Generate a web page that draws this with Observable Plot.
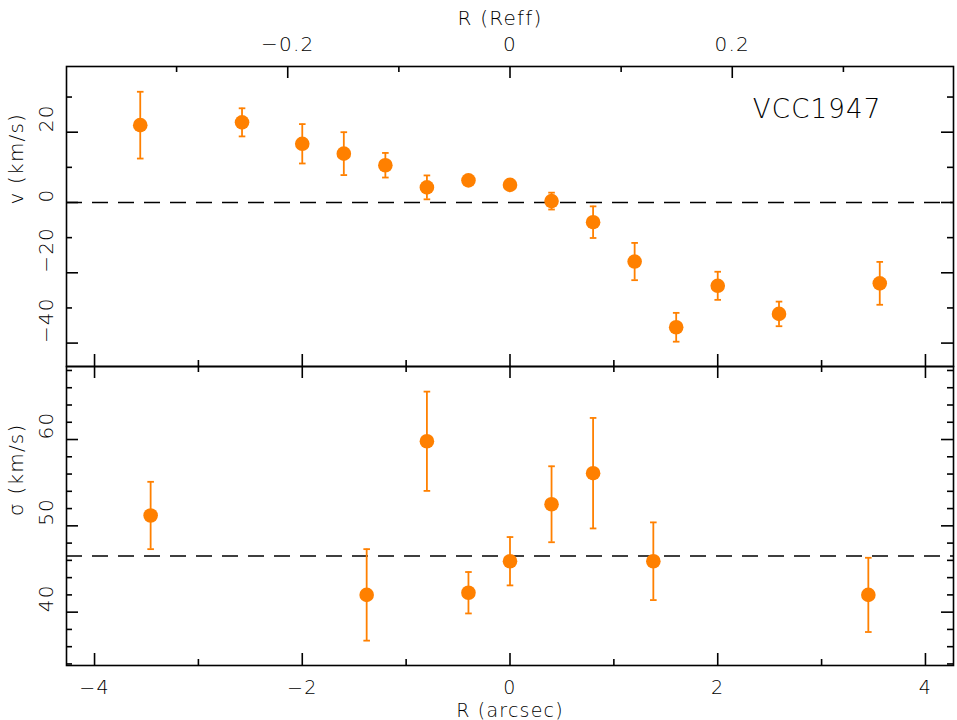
<!DOCTYPE html>
<html><head><meta charset="utf-8">
<script src="https://cdn.jsdelivr.net/npm/d3@7"></script>
<script src="https://cdn.jsdelivr.net/npm/@observablehq/plot@0.6"></script>
<style>
html,body{margin:0;padding:0;background:#fff;}
#chart{position:relative;width:957px;height:720px;overflow:hidden;}
#chart svg{position:absolute;left:0;overflow:visible;}
#chart svg text{letter-spacing:1.2px;font-weight:300;}
</style></head><body><div id="chart"></div>
<script>
// ---- data ----
const galaxy = "VCC1947";
const vR   = [-3.56, -2.58, -2.0, -1.6, -1.2, -0.8, -0.4, 0, 0.4, 0.8, 1.2, 1.6, 2.0, 2.59, 3.56];
const vVal = [22.0, 22.8, 16.7, 13.9, 10.6, 4.3, 6.3, 5.0, 0.4, -5.6, -16.8, -35.5, -23.7, -31.7, -23.0];
const vErr = [9.5, 4.0, 5.6, 6.1, 3.5, 3.4, 1.0, 1.0, 2.4, 4.5, 5.3, 4.1, 4.0, 3.5, 6.1];
const sR   = [-3.46, -1.38, -0.8, -0.4, 0, 0.4, 0.8, 1.38, 3.45];
const sVal = [51.2, 42.0, 59.8, 42.25, 45.9, 52.5, 56.1, 45.9, 42.0];
const sErr = [3.9, 5.3, 5.75, 2.4, 2.8, 4.4, 6.4, 4.5, 4.3];
const vRef = [0];
const sRef = [46.5];
const rMajor = [-4, -2, 0, 2, 4];
const rMinor = [-3, -1, 1, 3];
const reffMajor = [-0.2, 0, 0.2];
const reffMinor = [-0.3, -0.1, 0.1, 0.3];
const reffArcsec = 10.7; // arcsec per Reff
const vMajor = [-40, -20, 0, 20];
const vMinor = [-30, -10, 10, 30];
const sMajor = [40, 50, 60];
const sMinor = [34, 36, 38, 42, 44, 46, 48, 52, 54, 56, 58, 62, 64, 66, 68];
const xDomain = [-4.27, 4.27];
const vDomain = [-46.66, 38.69];
const sDomain = [33.82, 68.46];

// ---- style ----
const orange = "#ff8000";
const FONT = "DejaVu Sans";
const W = 957, ML = 66, MR = 4;
const FW = W - ML - MR;
const SW = 1.6;
const fmt = d => (d < 0 ? "\u2212" + String(Math.abs(d)) : String(d));
const capSymbol = {draw(ctx) { ctx.moveTo(-3.3, 0); ctx.lineTo(3.3, 0); }};

const vData = vR.map((r, i) => ({r, v: vVal[i], lo: vVal[i] - vErr[i], hi: vVal[i] + vErr[i]}));
const sData = sR.map((r, i) => ({r, v: sVal[i], lo: sVal[i] - sErr[i], hi: sVal[i] + sErr[i]}));

function yTicks(major, minor) {
  return [
    Plot.tickY(major, {y: d => d, insetRight: FW - 12, stroke: "black", strokeWidth: SW}),
    Plot.tickY(minor, {y: d => d, insetRight: FW - 6, stroke: "black", strokeWidth: SW}),
    Plot.tickY(major, {y: d => d, insetLeft: FW - 12, stroke: "black", strokeWidth: SW}),
    Plot.tickY(minor, {y: d => d, insetLeft: FW - 6, stroke: "black", strokeWidth: SW}),
    Plot.text(major, {y: d => d, text: fmt, frameAnchor: "left", dx: -20, rotate: -90, fontSize: 20})
  ];
}
function xTicksBottom(FH, major, minor) {
  return [
    Plot.tickX(major, {x: d => d, insetTop: FH - 12, stroke: "black", strokeWidth: SW}),
    Plot.tickX(minor, {x: d => d, insetTop: FH - 6, stroke: "black", strokeWidth: SW})
  ];
}
function xTicksTop(FH, major, minor, f) {
  return [
    Plot.tickX(major, {x: f, insetBottom: FH - 12, stroke: "black", strokeWidth: SW}),
    Plot.tickX(minor, {x: f, insetBottom: FH - 6, stroke: "black", strokeWidth: SW})
  ];
}
function points(data) {
  return [
    Plot.ruleX(data, {x: "r", y1: "lo", y2: "hi", stroke: orange, strokeWidth: 1.8}),
    Plot.dot(data, {x: "r", y: "hi", symbol: capSymbol, fill: "none", stroke: orange, strokeWidth: 1.8, r: 3}),
    Plot.dot(data, {x: "r", y: "lo", symbol: capSymbol, fill: "none", stroke: orange, strokeWidth: 1.8, r: 3}),
    Plot.dot(data, {x: "r", y: "v", r: 7.3, fill: orange, stroke: "none"})
  ];
}

const TOP_H = 366, TOP_MT = 66;
const topFH = TOP_H - TOP_MT;
const topPlot = Plot.plot({
  width: W, height: TOP_H,
  marginLeft: ML, marginRight: MR, marginTop: TOP_MT, marginBottom: 0,
  style: {fontFamily: FONT, fontSize: "20px", background: "transparent", overflow: "visible"},
  x: {domain: xDomain, axis: null},
  y: {domain: vDomain, axis: null},
  marks: [
    Plot.ruleY(vRef, {y: d => d, stroke: "black", strokeWidth: SW, strokeDasharray: "16,10"}),
    ...points(vData),
    ...yTicks(vMajor, vMinor),
    ...xTicksBottom(topFH, rMajor, rMinor),
    ...xTicksTop(topFH, reffMajor, reffMinor, d => d * reffArcsec),
    Plot.text(reffMajor, {x: d => d * reffArcsec, text: fmt, frameAnchor: "top", dy: -16, lineAnchor: "bottom", fontSize: 20}),
    Plot.text(["R (Reff)"], {frameAnchor: "top", dx: -10, dy: -42, lineAnchor: "bottom", fontSize: 20}),
    Plot.text(["v (km/s)"], {frameAnchor: "left", dx: -50, dy: -12, rotate: -90, fontSize: 20}),
    Plot.text([galaxy], {frameAnchor: "top-right", dx: -72, dy: 51, textAnchor: "end", lineAnchor: "bottom", fontSize: 26}),
    Plot.frame({stroke: "black", strokeWidth: SW})
  ]
});

const BOT_H = 354, BOT_MB = 55;
const botFH = BOT_H - BOT_MB;
const bottomPlot = Plot.plot({
  width: W, height: BOT_H,
  marginLeft: ML, marginRight: MR, marginTop: 0, marginBottom: BOT_MB,
  style: {fontFamily: FONT, fontSize: "20px", background: "transparent", overflow: "visible"},
  x: {domain: xDomain, axis: null},
  y: {domain: sDomain, axis: null},
  marks: [
    Plot.ruleY(sRef, {y: d => d, stroke: "black", strokeWidth: SW, strokeDasharray: "16,10"}),
    ...points(sData),
    ...yTicks(sMajor, sMinor),
    ...xTicksBottom(botFH, rMajor, rMinor),
    ...xTicksTop(botFH, rMajor, rMinor, d => d),
    Plot.text(rMajor, {x: d => d, text: fmt, frameAnchor: "bottom", dy: 28, lineAnchor: "bottom", fontSize: 19}),
    Plot.text(["R (arcsec)"], {frameAnchor: "bottom", dy: 51, lineAnchor: "bottom", fontSize: 19}),
    Plot.text(["\u03c3 (km/s)"], {frameAnchor: "left", dx: -50, rotate: -90, fontSize: 20}),
    Plot.frame({stroke: "black", strokeWidth: SW})
  ]
});

topPlot.style.top = "0px";
bottomPlot.style.top = TOP_H + "px";
const chart = document.getElementById("chart");
chart.appendChild(topPlot);
chart.appendChild(bottomPlot);
</script>
</body></html>
